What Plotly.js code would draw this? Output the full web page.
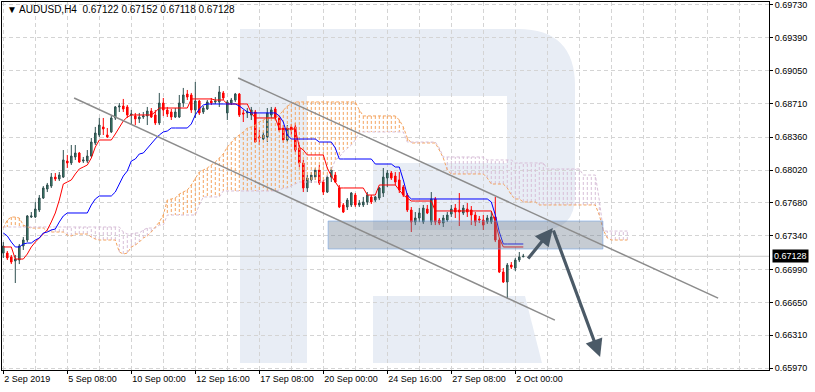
<!DOCTYPE html>
<html>
<head>
<meta charset="utf-8">
<script src="https://cdn.plot.ly/plotly-3.0.1.min.js"></script>
<style>html,body{margin:0;padding:0;background:#fff;}#chart{width:815px;height:392px;}</style>
</head>
<body>
<div id="chart"></div>
<script>
// ---- Data (AUDUSD H4, bar index 0 = 2 Sep 2019 16:00) ----
const open = [0.67161,0.67161,0.67120,0.67079,0.67089,0.67234,0.67296,0.67535,0.67535,0.67607,
0.67731,0.67824,0.67855,0.67948,0.67928,0.67948,0.68114,0.68094,0.68156,0.68197,
0.68114,0.68114,0.68166,0.68301,0.68384,0.68467,0.68384,0.68415,0.68560,0.68674,
0.68684,0.68674,0.68591,0.68581,0.68550,0.68570,0.68581,0.68632,0.68591,0.68508,
0.68715,0.68643,0.68622,0.68570,0.68570,0.68715,0.68808,0.68798,0.68643,0.68736,
0.68622,0.68653,0.68736,0.68726,0.68726,0.68819,0.68612,0.68715,0.68746,0.68808,
0.68612,0.68612,0.68591,0.68622,0.68363,0.68342,0.68363,0.68591,0.68653,0.68560,
0.68456,0.68332,0.68467,0.68467,0.68249,0.68094,0.67835,0.67918,0.67948,0.68021,
0.67897,0.67793,0.67948,0.67969,0.67835,0.67659,0.67638,0.67659,0.67762,0.67659,
0.67659,0.67690,0.67742,0.67710,0.67731,0.67783,0.67938,0.67990,0.67959,0.67918,
0.67845,0.67762,0.67607,0.67483,0.67524,0.67483,0.67617,0.67483,0.67721,0.67503,
0.67472,0.67503,0.67565,0.67627,0.67607,0.67576,0.67617,0.67607,0.67555,0.67514,
0.67503,0.67483,0.67483,0.67535,0.67296,0.66965,0.66861,0.67037,0.67006,0.67089,
0.67122];
const high = [0.67275,0.67182,0.67141,0.67141,0.67255,0.67327,0.67555,0.67586,0.67690,0.67762,
0.67855,0.67887,0.67990,0.67990,0.68000,0.68228,0.68177,0.68280,0.68280,0.68208,
0.68156,0.68228,0.68353,0.68467,0.68560,0.68560,0.68456,0.68581,0.68684,0.68715,
0.68757,0.68694,0.68643,0.68612,0.68612,0.68622,0.68674,0.68663,0.68643,0.68819,
0.68767,0.68674,0.68653,0.68663,0.68798,0.68871,0.68850,0.68819,0.68933,0.68746,
0.68684,0.68746,0.68767,0.68777,0.68891,0.68839,0.68746,0.68767,0.68819,0.68819,
0.68643,0.68663,0.68674,0.68643,0.68435,0.68415,0.68663,0.68674,0.68674,0.68581,
0.68487,0.68487,0.68498,0.68508,0.68280,0.68125,0.67969,0.68000,0.68042,0.68073,
0.67918,0.67969,0.68052,0.68000,0.67866,0.67679,0.67731,0.67793,0.67783,0.67710,
0.67742,0.67793,0.67762,0.67752,0.67845,0.68042,0.68021,0.68011,0.68000,0.68000,
0.67866,0.67783,0.67638,0.67586,0.67627,0.67659,0.67659,0.67793,0.67742,0.67524,
0.67555,0.67586,0.67659,0.67669,0.67783,0.67659,0.67679,0.67648,0.67586,0.67545,
0.67555,0.67555,0.67586,0.67742,0.67317,0.67006,0.67058,0.67068,0.67110,0.67172,
0.67152];
const low = [0.67110,0.67089,0.67047,0.66851,0.67047,0.67193,0.67275,0.67524,0.67524,0.67586,
0.67721,0.67793,0.67835,0.67907,0.67907,0.67938,0.68042,0.68073,0.68125,0.68094,
0.68094,0.68094,0.68156,0.68280,0.68363,0.68384,0.68353,0.68404,0.68539,0.68622,
0.68622,0.68560,0.68487,0.68487,0.68508,0.68550,0.68487,0.68560,0.68487,0.68487,
0.68581,0.68570,0.68539,0.68560,0.68560,0.68674,0.68746,0.68612,0.68560,0.68591,
0.68601,0.68643,0.68694,0.68705,0.68674,0.68746,0.68539,0.68694,0.68726,0.68570,
0.68518,0.68560,0.68539,0.68301,0.68280,0.68332,0.68311,0.68560,0.68539,0.68415,
0.68301,0.68311,0.68384,0.68208,0.68052,0.67793,0.67793,0.67887,0.67918,0.67866,
0.67762,0.67783,0.67897,0.67887,0.67627,0.67576,0.67607,0.67638,0.67638,0.67638,
0.67638,0.67659,0.67669,0.67690,0.67710,0.67742,0.67845,0.67918,0.67866,0.67783,
0.67742,0.67586,0.67379,0.67451,0.67483,0.67462,0.67565,0.67451,0.67451,0.67451,
0.67431,0.67483,0.67535,0.67524,0.67441,0.67555,0.67535,0.67451,0.67441,0.67472,
0.67400,0.67462,0.67462,0.67275,0.66954,0.66851,0.66695,0.66996,0.66975,0.67068,
0.67118];
const close = [0.67234,0.67110,0.67068,0.67099,0.67234,0.67296,0.67545,0.67545,0.67617,0.67731,
0.67835,0.67866,0.67948,0.67928,0.67969,0.68125,0.68094,0.68166,0.68197,0.68104,
0.68125,0.68166,0.68311,0.68404,0.68487,0.68446,0.68363,0.68560,0.68674,0.68684,
0.68653,0.68591,0.68601,0.68550,0.68570,0.68581,0.68632,0.68570,0.68508,0.68715,
0.68643,0.68601,0.68570,0.68622,0.68715,0.68798,0.68777,0.68643,0.68736,0.68612,
0.68663,0.68726,0.68715,0.68736,0.68829,0.68767,0.68726,0.68746,0.68808,0.68591,
0.68601,0.68622,0.68643,0.68311,0.68353,0.68384,0.68612,0.68643,0.68560,0.68435,
0.68332,0.68456,0.68435,0.68228,0.68094,0.67835,0.67938,0.67969,0.68021,0.67887,
0.67793,0.67948,0.68021,0.67897,0.67638,0.67586,0.67710,0.67783,0.67659,0.67679,
0.67690,0.67762,0.67690,0.67742,0.67835,0.67948,0.67990,0.67938,0.67897,0.67814,
0.67762,0.67607,0.67483,0.67524,0.67576,0.67627,0.67576,0.67721,0.67483,0.67472,
0.67524,0.67555,0.67617,0.67586,0.67586,0.67627,0.67586,0.67555,0.67483,0.67503,
0.67451,0.67524,0.67535,0.67296,0.66965,0.66861,0.67037,0.67016,0.67089,0.67120,
0.67128];

// Ichimoku: Tenkan-sen (red), Kijun-sen (blue)
const tenkan = [0.67224,0.67224,0.67224,0.67099,0.67099,0.67099,0.67151,0.67224,0.67275,0.67317,
0.67358,0.67400,0.67483,0.67576,0.67710,0.67876,0.67897,0.67918,0.67980,0.68032,
0.68052,0.68073,0.68145,0.68259,0.68332,0.68332,0.68332,0.68332,0.68394,0.68456,
0.68529,0.68570,0.68591,0.68591,0.68591,0.68591,0.68591,0.68591,0.68622,0.68663,
0.68663,0.68663,0.68663,0.68663,0.68663,0.68663,0.68663,0.68757,0.68757,0.68757,
0.68757,0.68757,0.68757,0.68746,0.68746,0.68746,0.68705,0.68705,0.68705,0.68705,
0.68705,0.68705,0.68612,0.68560,0.68560,0.68560,0.68560,0.68560,0.68560,0.68446,
0.68446,0.68446,0.68446,0.68446,0.68259,0.68228,0.68177,0.68177,0.68177,0.68177,
0.68177,0.68042,0.67959,0.67897,0.67835,0.67835,0.67835,0.67835,0.67835,0.67835,
0.67835,0.67762,0.67762,0.67762,0.67866,0.67866,0.67866,0.67866,0.67866,0.67814,
0.67762,0.67731,0.67700,0.67700,0.67700,0.67700,0.67700,0.67700,0.67597,0.67597,
0.67597,0.67597,0.67597,0.67597,0.67597,0.67597,0.67597,0.67597,0.67597,0.67597,
0.67597,0.67597,0.67597,0.67483,0.67317,0.67224,0.67224,0.67224,0.67224,0.67224,
0.67224];
const kijun = [0.67369,0.67338,0.67275,0.67224,0.67224,0.67255,0.67265,0.67265,0.67296,0.67317,
0.67369,0.67379,0.67400,0.67410,0.67483,0.67545,0.67576,0.67576,0.67576,0.67576,
0.67576,0.67576,0.67659,0.67721,0.67752,0.67752,0.67752,0.67752,0.67793,0.67876,
0.67959,0.68011,0.68114,0.68135,0.68187,0.68197,0.68249,0.68301,0.68342,0.68384,
0.68415,0.68425,0.68456,0.68456,0.68456,0.68456,0.68456,0.68498,0.68591,0.68653,
0.68694,0.68705,0.68705,0.68705,0.68705,0.68705,0.68705,0.68705,0.68705,0.68684,
0.68653,0.68622,0.68612,0.68612,0.68612,0.68612,0.68612,0.68612,0.68612,0.68581,
0.68518,0.68384,0.68342,0.68342,0.68342,0.68342,0.68342,0.68342,0.68342,0.68311,
0.68311,0.68311,0.68311,0.68249,0.68135,0.68135,0.68135,0.68135,0.68135,0.68135,
0.68135,0.68135,0.68135,0.68083,0.68083,0.68083,0.68083,0.68083,0.68052,0.68052,
0.67918,0.67762,0.67721,0.67721,0.67721,0.67721,0.67721,0.67721,0.67721,0.67721,
0.67721,0.67721,0.67721,0.67721,0.67721,0.67721,0.67721,0.67721,0.67721,0.67721,
0.67721,0.67721,0.67690,0.67555,0.67379,0.67255,0.67255,0.67255,0.67255,0.67255,
0.67255];
// Senkou Span A (sandy brown) and Span B (thistle), shifted 26 bars ahead
const spanA = [0.67420,0.67503,0.67534,0.67534,0.67524,0.67451,0.67431,0.67420,0.67420,0.67420,
0.67420,0.67389,0.67379,0.67379,0.67379,0.67379,0.67348,0.67338,0.67358,0.67358,
0.67358,0.67358,0.67327,0.67306,0.67296,0.67296,0.67296,0.67296,0.67296,0.67172,
0.67151,0.67161,0.67224,0.67244,0.67275,0.67317,0.67338,0.67379,0.67431,0.67483,
0.67555,0.67710,0.67721,0.67731,0.67773,0.67793,0.67814,0.67866,0.67938,0.68000,
0.68021,0.68042,0.68073,0.68104,0.68145,0.68187,0.68259,0.68311,0.68353,0.68384,
0.68415,0.68456,0.68467,0.68487,0.68518,0.68539,0.68560,0.68560,0.68560,0.68591,
0.68643,0.68684,0.68705,0.68726,0.68726,0.68726,0.68726,0.68726,0.68726,0.68726,
0.68726,0.68726,0.68726,0.68726,0.68726,0.68726,0.68726,0.68726,0.68726,0.68643,
0.68581,0.68581,0.68581,0.68581,0.68581,0.68581,0.68581,0.68581,0.68581,0.68539,
0.68467,0.68353,0.68301,0.68301,0.68301,0.68301,0.68301,0.68301,0.68301,0.68228,
0.68145,0.68021,0.67980,0.67980,0.67980,0.67980,0.67980,0.67980,0.67980,0.67980,
0.67980,0.67938,0.67876,0.67876,0.67876,0.67876,0.67835,0.67762,0.67721,0.67721,
0.67690,0.67690,0.67690,0.67690,0.67659,0.67659,0.67659,0.67659,0.67659,0.67659,
0.67659,0.67659,0.67659,0.67659,0.67659,0.67659,0.67659,0.67659,0.67659,0.67555,
0.67400,0.67317,0.67296,0.67296,0.67296,0.67296,0.67296];
const spanB = [0.67431,0.67431,0.67431,0.67431,0.67431,0.67431,0.67431,0.67431,0.67431,0.67431,
0.67431,0.67431,0.67431,0.67431,0.67431,0.67431,0.67431,0.67431,0.67431,0.67431,
0.67431,0.67431,0.67431,0.67431,0.67431,0.67431,0.67431,0.67431,0.67431,0.67431,
0.67379,0.67358,0.67358,0.67369,0.67369,0.67400,0.67420,0.67420,0.67420,0.67451,
0.67451,0.67555,0.67555,0.67555,0.67555,0.67555,0.67555,0.67555,0.67555,0.67659,
0.67742,0.67742,0.67742,0.67742,0.67742,0.67804,0.67804,0.67804,0.67804,0.67804,
0.67804,0.67804,0.67804,0.67804,0.67804,0.67804,0.67804,0.67804,0.67804,0.67814,
0.67835,0.67835,0.67855,0.67876,0.67897,0.67897,0.67897,0.67897,0.67897,0.67897,
0.67897,0.67959,0.68021,0.68125,0.68156,0.68208,0.68249,0.68280,0.68332,0.68415,
0.68415,0.68415,0.68415,0.68415,0.68415,0.68415,0.68415,0.68415,0.68415,0.68415,
0.68415,0.68311,0.68311,0.68311,0.68311,0.68311,0.68311,0.68311,0.68311,0.68249,
0.68156,0.68156,0.68156,0.68156,0.68156,0.68156,0.68156,0.68156,0.68156,0.68156,
0.68156,0.68125,0.68125,0.68125,0.68125,0.68125,0.68125,0.68125,0.68094,0.68094,
0.68094,0.68094,0.68094,0.68094,0.68094,0.68094,0.68032,0.68032,0.68032,0.68032,
0.68032,0.68032,0.68032,0.68032,0.68032,0.67969,0.67969,0.67969,0.67969,0.67710,
0.67389,0.67389,0.67389,0.67389,0.67389,0.67389,0.67389];

// Axis ticks
const timeTickIdx = [0,16,32,48,64,80,96,112,128];
const timeTickLabels = ['2 Sep 2019','5 Sep 08:00','10 Sep 00:00','12 Sep 16:00','17 Sep 08:00','20 Sep 00:00','24 Sep 16:00','27 Sep 08:00','2 Oct 00:00'];
const priceTicks = [0.6973,0.6939,0.6905,0.6871,0.6836,0.6802,0.6768,0.6734,0.6699,0.6665,0.6631,0.6597];
const priceTickLabels = ['0.69730','0.69390','0.69050','0.68710','0.68360','0.68020','0.67680','0.67340','0.66990','0.66650','0.66310','0.65970'];
const lastPrice = 0.67128;
const titleText = '\u25BC AUDUSD,H4  0.67122 0.67152 0.67118 0.67128';

// Analysis drawings (bar index, price)
const upperChannel = [[58.7, 0.68974],[178.7, 0.66695]];
const lowerChannel = [[17.7, 0.68767],[137.9, 0.66467]];
const zone = {x0: 81.2, x1: 149.9, y0: 0.67203, y1: 0.67493};
const arrowUp = {from:[130.9, 0.67089], to:[137.4, 0.67420]};
const arrowDown = {from:[137.4, 0.67410], to:[149.2, 0.66084]};

// ---- Build ----
const idx = open.map((_, i) => i);
const idxSpan = spanA.map((_, i) => i);
const hatchUpX = [], hatchUpY = [], hatchDnX = [], hatchDnY = [];
spanA.forEach((a, i) => {
  const b = spanB[i];
  if (a >= b) { hatchUpX.push(i, i, null); hatchUpY.push(a, b, null); }
  else { hatchDnX.push(i, i, null); hatchDnY.push(a, b, null); }
});

const traces = [
  {type:'scatter', mode:'lines', x:hatchUpX, y:hatchUpY, line:{color:'#f4a460', width:1, dash:'3px,2px'}, hoverinfo:'skip'},
  {type:'scatter', mode:'lines', x:hatchDnX, y:hatchDnY, line:{color:'#d8bfd8', width:1, dash:'3px,2px'}, hoverinfo:'skip'},
  {type:'scatter', mode:'lines', x:idxSpan, y:spanA, line:{color:'#f4a460', width:1, dash:'3px,2px'}, hoverinfo:'skip'},
  {type:'scatter', mode:'lines', x:idxSpan, y:spanB, line:{color:'#d8bfd8', width:1, dash:'3px,2px'}, hoverinfo:'skip'},
  {type:'candlestick', x:idx, open:open, high:high, low:low, close:close,
   increasing:{line:{color:'#2f4f4f', width:1}, fillcolor:'#3c8a6c'},
   decreasing:{line:{color:'#ff0000', width:1}, fillcolor:'#ff0000'},
   whiskerwidth:0, hoverinfo:'skip'},
  {type:'scatter', mode:'lines', x:idx, y:tenkan, line:{color:'#ff0000', width:1}, hoverinfo:'skip'},
  {type:'scatter', mode:'lines', x:idx, y:kijun, line:{color:'#0000ff', width:1}, hoverinfo:'skip'}
];

// watermark geometry in plot pixels -> paper
const L = 2, R = 769, T = 2, B = 370;
const px = x => ((x - L) / (R - L)).toFixed(4);
const py = y => ((B - y) / (B - T)).toFixed(4);
const P = (x, y) => px(x) + ',' + py(y);
const wm = '#e8edf5';
const shapes = [
  {type:'rect', xref:'paper', yref:'paper', x0:px(240), x1:px(307), y0:py(363), y1:py(29), fillcolor:wm, line:{width:0}, layer:'below'},
  {type:'path', xref:'paper', yref:'paper', layer:'below', fillcolor:wm, line:{width:0},
   path:'M'+P(306,29)+' L'+P(518,29)+' Q'+P(575,29)+' '+P(575,86)+' L'+P(575,196)+' Q'+P(575,230)+' '+P(541,230)+' L'+P(373,230)+' L'+P(373,163)+' L'+P(507,163)+' L'+P(507,96)+' L'+P(306,96)+' Z'},
  {type:'path', xref:'paper', yref:'paper', layer:'below', fillcolor:wm, line:{width:0},
   path:'M'+P(373,296)+' L'+P(525,296)+' L'+P(542,363)+' L'+P(373,363)+' Z'},
  {type:'line', xref:'paper', yref:'y', x0:0, x1:1, y0:lastPrice, y1:lastPrice, line:{color:'#c8c8c8', width:1}, layer:'between'},
  {type:'rect', xref:'x', yref:'y', x0:zone.x0, x1:zone.x1, y0:zone.y0, y1:zone.y1, fillcolor:'rgba(112,128,144,0.40)', line:{color:'rgba(110,160,230,0.55)', width:1}, layer:'above'},
  {type:'line', xref:'x', yref:'y', x0:upperChannel[0][0], y0:upperChannel[0][1], x1:upperChannel[1][0], y1:upperChannel[1][1], line:{color:'#8c8c8c', width:1.5}, layer:'above'},
  {type:'line', xref:'x', yref:'y', x0:lowerChannel[0][0], y0:lowerChannel[0][1], x1:lowerChannel[1][0], y1:lowerChannel[1][1], line:{color:'#8c8c8c', width:1.5}, layer:'above'}
];

const arrowColor = '#4b5a67';
const annotations = [
  {xref:'paper', yref:'paper', x:0.004, y:py(10), xanchor:'left', yanchor:'middle', showarrow:false,
   text:titleText, font:{family:'Liberation Sans, Arial, sans-serif', size:10, color:'#000'}},
  {xref:'paper', yref:'y', x:1, y:lastPrice, xanchor:'left', yanchor:'middle', xshift:3, showarrow:false,
   text:lastPrice.toFixed(5), bgcolor:'#000', borderpad:1, font:{family:'Liberation Sans, Arial, sans-serif', size:9, color:'#fff'}},
  {xref:'x', yref:'y', axref:'x', ayref:'y', x:arrowUp.to[0], y:arrowUp.to[1], ax:arrowUp.from[0], ay:arrowUp.from[1],
   text:'', showarrow:true, arrowhead:2, arrowsize:1.1, arrowwidth:3.2, arrowcolor:arrowColor, standoff:0},
  {xref:'x', yref:'y', axref:'x', ayref:'y', x:arrowDown.to[0], y:arrowDown.to[1], ax:arrowDown.from[0], ay:arrowDown.from[1],
   text:'', showarrow:true, arrowhead:2, arrowsize:1.1, arrowwidth:3.2, arrowcolor:arrowColor, standoff:0}
];

const layout = {
  width:815, height:392,
  margin:{l:L, r:815-R, t:T, b:392-B},
  paper_bgcolor:'#fff', plot_bgcolor:'#fff',
  showlegend:false, boxgap:0.45,
  font:{family:'Liberation Sans, Arial, sans-serif', size:9, color:'#000'},
  xaxis:{
    range:[(L-3.3)/4, (R-3.3)/4], fixedrange:true,
    rangeslider:{visible:false},
    tickmode:'array', tickvals:timeTickIdx, ticktext:timeTickLabels,
    ticklabelposition:'outside right', ticks:'outside', ticklen:3, tickcolor:'#000',
    showgrid:true, gridcolor:'#d4d4d4', griddash:'4px,3px', gridwidth:1,
    minor:{tickmode:'linear', tick0:0, dtick:8, showgrid:true, gridcolor:'#d4d4d4', griddash:'4px,3px', ticks:''},
    showline:true, linecolor:'#000', linewidth:1, mirror:true, zeroline:false,
    tickfont:{size:9, color:'#000'}
  },
  yaxis:{
    side:'right', range:[0.65950, 0.69761], fixedrange:true,
    tickmode:'array', tickvals:priceTicks, ticktext:priceTickLabels,
    ticks:'outside', ticklen:3, tickcolor:'#000',
    showgrid:true, gridcolor:'#d4d4d4', griddash:'4px,3px', gridwidth:1,
    showline:true, linecolor:'#000', linewidth:1, mirror:true, zeroline:false,
    tickfont:{size:9, color:'#000'}
  },
  shapes:shapes, annotations:annotations
};

Plotly.newPlot('chart', traces, layout, {staticPlot:true, displayModeBar:false});
</script>
</body>
</html>
